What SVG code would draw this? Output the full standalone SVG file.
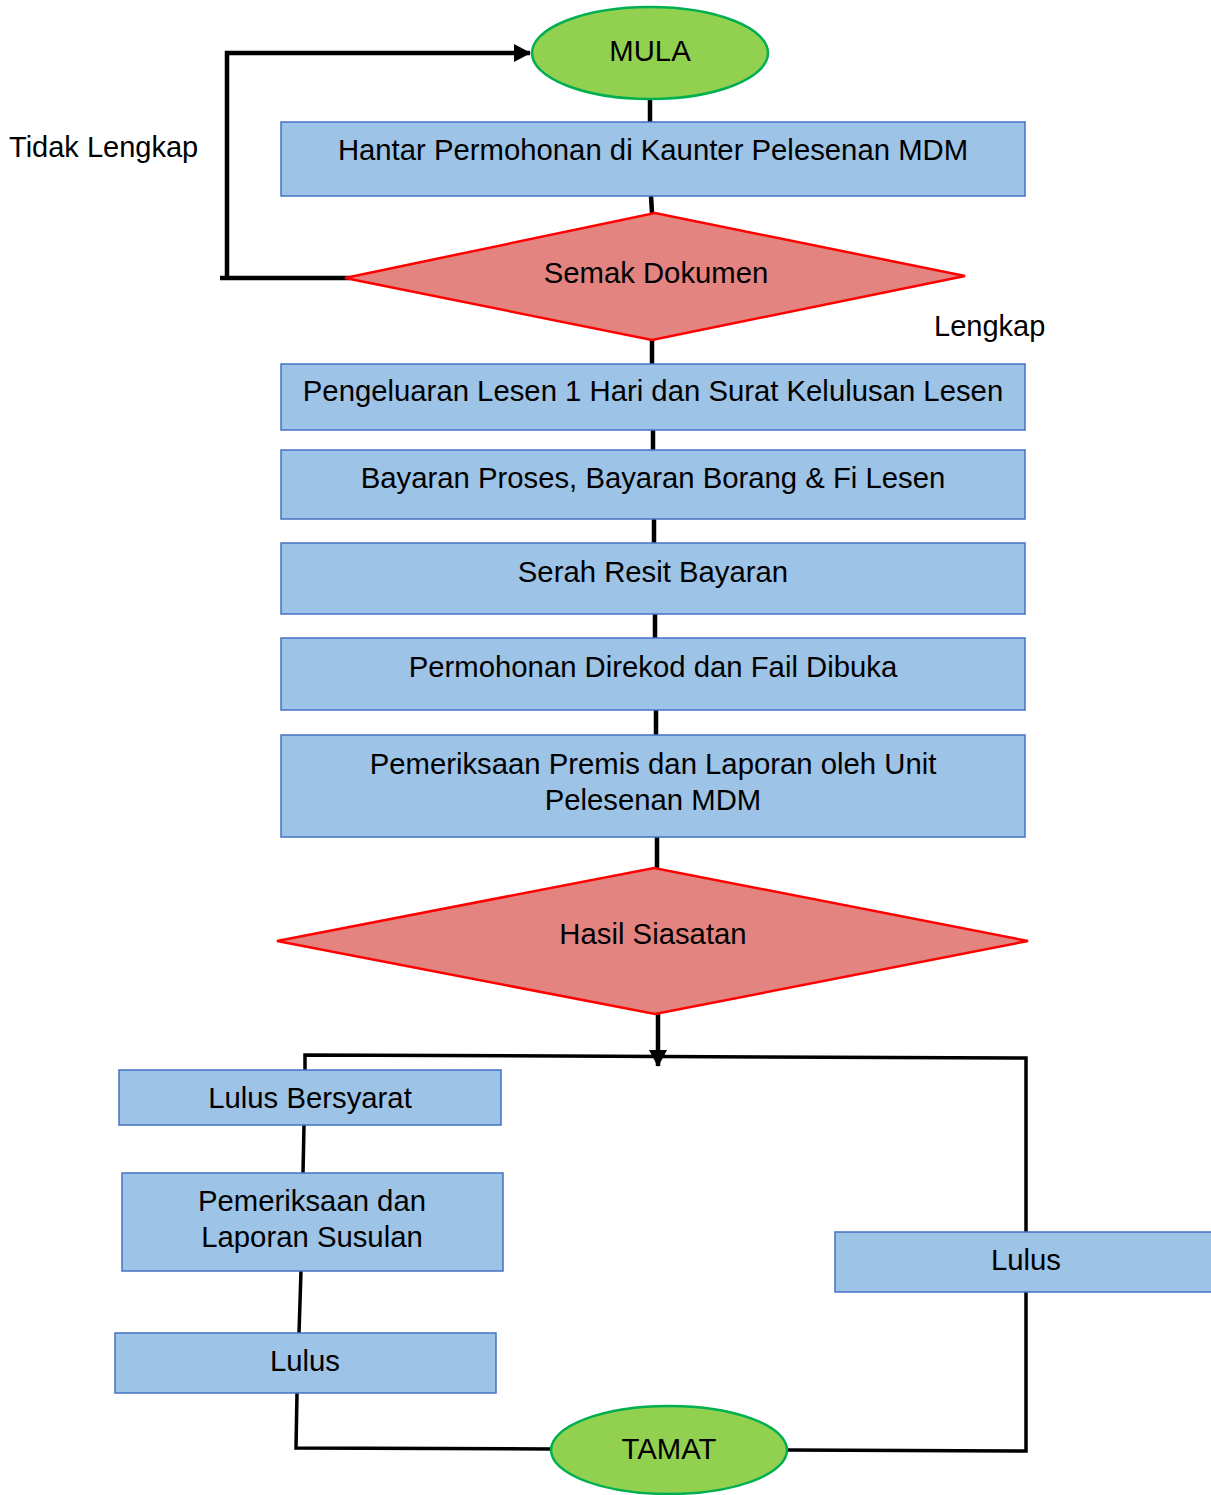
<svg xmlns="http://www.w3.org/2000/svg" width="1211" height="1495" viewBox="0 0 1211 1495">
<style>
.box{fill:#9DC3E6;stroke:#4472C4;stroke-width:1.5}
.term{fill:#92D050;stroke:#00B050;stroke-width:2.5}
.dec{fill:#E48481;stroke:#FF0000;stroke-width:2.5}
.t{font-family:"Liberation Sans",Arial,sans-serif;font-size:29.3px;fill:#000;text-anchor:middle}
.lbl{font-family:"Liberation Sans",Arial,sans-serif;font-size:29px;fill:#000}
.c{fill:none;stroke:#000;stroke-width:4.5}
.c3{fill:none;stroke:#000;stroke-width:3.5}
</style>
<defs>
<marker id="ah2" markerWidth="17" markerHeight="18" refX="16" refY="9" orient="auto" markerUnits="userSpaceOnUse" viewBox="0 0 17 18">
<path d="M0,0 L17,9 L0,18 Z" fill="#000"/>
</marker>
</defs>
<g id="connectors">
<path class="c" d="M650,99 L650,122"/>
<path class="c" d="M651,196 L652,213"/>
<path class="c" d="M652,340 L652,364"/>
<path class="c" d="M653,430 L653,450"/>
<path class="c" d="M654,519 L654,543"/>
<path class="c" d="M655,614 L655,638"/>
<path class="c" d="M656,710 L656,735"/>
<path class="c" d="M657,837 L657,868"/>
<path class="c" d="M350,278 L220,278"/>
<path class="c" d="M227,280 L227,53 L530,53" marker-end="url(#ah2)"/>
<path class="c" d="M658,1014 L658,1066" marker-end="url(#ah2)"/>
<path class="c3" d="M305,1070 L305,1055 L1026,1058 L1026,1232"/>
<path class="c3" d="M1026,1292 L1026,1451 L787,1450"/>
<path class="c3" d="M304,1125 L303,1173"/>
<path class="c3" d="M301,1271 L299,1333"/>
<path class="c3" d="M297,1393 L296,1448 L552,1449"/>
</g>
<g id="mula">
<ellipse class="term" cx="650" cy="53" rx="118" ry="46"/>
<text class="t" x="650" y="61">MULA</text>
</g>
<g id="hantar">
<rect class="box" x="281" y="122" width="744" height="74"/>
<text class="t" x="653" y="160">Hantar Permohonan di Kaunter Pelesenan MDM</text>
</g>
<g id="semak">
<polygon class="dec" points="345,278 655,213 965,276 652,340"/>
<text class="t" x="656" y="283">Semak Dokumen</text>
</g>
<g id="label-tidak">
<text class="lbl" x="9" y="157">Tidak Lengkap</text>
</g>
<g id="label-lengkap">
<text class="lbl" x="934" y="336">Lengkap</text>
</g>
<g id="pengeluaran">
<rect class="box" x="281" y="364" width="744" height="66"/>
<text class="t" x="653" y="401">Pengeluaran Lesen 1 Hari dan Surat Kelulusan Lesen</text>
</g>
<g id="bayaran">
<rect class="box" x="281" y="450" width="744" height="69"/>
<text class="t" x="653" y="488">Bayaran Proses, Bayaran Borang &amp; Fi Lesen</text>
</g>
<g id="serah">
<rect class="box" x="281" y="543" width="744" height="71"/>
<text class="t" x="653" y="582">Serah Resit Bayaran</text>
</g>
<g id="permohonan">
<rect class="box" x="281" y="638" width="744" height="72"/>
<text class="t" x="653" y="677">Permohonan Direkod dan Fail Dibuka</text>
</g>
<g id="pemeriksaan">
<rect class="box" x="281" y="735" width="744" height="102"/>
<text class="t" x="653" y="774">Pemeriksaan Premis dan Laporan oleh Unit</text>
<text class="t" x="653" y="810">Pelesenan MDM</text>
</g>
<g id="hasil">
<polygon class="dec" points="277,941 654,868 1028,941 655,1014"/>
<text class="t" x="653" y="944">Hasil Siasatan</text>
</g>
<g id="bersyarat">
<rect class="box" x="119" y="1070" width="382" height="55"/>
<text class="t" x="310" y="1108">Lulus Bersyarat</text>
</g>
<g id="susulan">
<rect class="box" x="122" y="1173" width="381" height="98"/>
<text class="t" x="312" y="1211">Pemeriksaan dan</text>
<text class="t" x="312" y="1247">Laporan Susulan</text>
</g>
<g id="lulus-kiri">
<rect class="box" x="115" y="1333" width="381" height="60"/>
<text class="t" x="305" y="1371">Lulus</text>
</g>
<g id="lulus-kanan">
<rect class="box" x="835" y="1232" width="382" height="60"/>
<text class="t" x="1026" y="1270">Lulus</text>
</g>
<g id="tamat">
<ellipse class="term" cx="669" cy="1450" rx="118" ry="44"/>
<text class="t" x="669" y="1459">TAMAT</text>
</g>
</svg>
